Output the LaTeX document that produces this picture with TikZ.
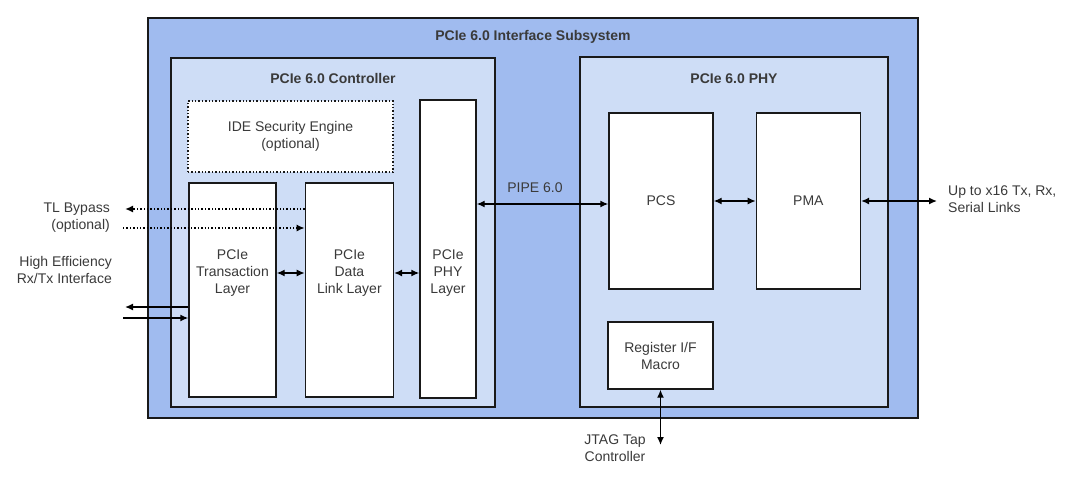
\documentclass[tikz,border=0pt]{standalone}
\usepackage{fontspec}
\setmainfont{Liberation Sans}
\usetikzlibrary{positioning,arrows.meta}
\definecolor{subsysblue}{HTML}{A0BBEF}
\definecolor{paleblue}{HTML}{CEDDF6}
\definecolor{textgray}{HTML}{3A3A3A}
\tikzset{
  groupbox/.style={rectangle,draw=black!90,line width=1.4pt,inner sep=0pt},
  blockbox/.style={groupbox,fill=white,text=textgray,align=center},
  lbl/.style={align=center,text=textgray,inner sep=0pt},
  link/.style={line width=1.4pt,{Latex[length=8pt,width=7pt]}-{Latex[length=8pt,width=7pt]}},
  oneway/.style={line width=1.4pt,-{Latex[length=8pt,width=7pt]}},
}

\begin{document}
\begin{tikzpicture}[x=1pt,y=-1pt,font=\fontsize{14}{17}\selectfont]
    \useasboundingbox (0,0) rectangle (1080,485);
    \fill[white] (0,0) rectangle (1080,485);

    % Subsystem and its two groups
    \node (subsys) [groupbox,fill=subsysblue,minimum width=770pt,minimum height=400pt] at (533,218) {};
    \node (subsyslabel) [lbl,font=\fontsize{14}{17}\selectfont\bfseries,below=13pt of subsys.north] {PCIe 6.0 Interface Subsystem};

    \node (ctrl) [groupbox,fill=paleblue,minimum width=324pt,minimum height=349pt] at (333,232.5) {};
    \node (ctrllabel) [lbl,font=\fontsize{14}{17}\selectfont\bfseries,below=16pt of ctrl.north] {PCIe 6.0 Controller};

    \node (phy) [groupbox,fill=paleblue,minimum width=308pt,minimum height=350pt] at (734,232) {};
    \node (phylabel) [lbl,font=\fontsize{14}{17}\selectfont\bfseries,below=17pt of phy.north] {PCIe 6.0 PHY};

    % Controller blocks
    \node (ide) [blockbox,dotted,line width=2pt,minimum width=205pt,minimum height=71pt] at (290.5,136.5) {};
    \node (idelabel) [lbl] at (ide.center) {IDE Security Engine\\(optional)};

    \node (tl) [blockbox,minimum width=87pt,minimum height=214pt] at (232.5,290) {};
    \node (tllabel) [lbl] at (232.5,273) {PCIe\\Transaction\\Layer};

    \node (dl) [blockbox,minimum width=88pt,minimum height=214pt,right=28pt of tl] {};
    \node (dllabel) [lbl] at (dl.center |- tllabel) {PCIe\\Data\\Link Layer};

    \node (phyl) [blockbox,minimum width=56pt,minimum height=298pt] at (448,249) {};
    \node (phyllabel) [lbl] at (phyl.center |- tllabel) {PCIe\\PHY\\Layer};

    % PHY blocks
    \node (pcs) [blockbox,minimum width=104pt,minimum height=176pt] at (661,201) {PCS};
    \node (pma) [blockbox,minimum width=104pt,minimum height=176pt,right=42pt of pcs] {PMA};
    \node (reg) [blockbox,minimum width=105pt,minimum height=67pt] at (660.5,355.5) {Register I/F\\Macro};

    % Outside labels
    \node (bypasslabel) [lbl,align=right,anchor=east] at (110,218) {TL Bypass\\(optional)};
    \node (hostlabel) [lbl,align=right,anchor=east] at (112,270) {High Efficiency\\Rx/Tx Interface};
    \node (serlabel) [lbl,align=left,anchor=west] at (948,199) {Up to x16 Tx, Rx,\\Serial Links};
    \node (jtaglabel) [lbl] at (615,448) {JTAG Tap\\Controller};
    \node (pipelabel) [lbl] at (535,188) {PIPE 6.0};

    \coordinate (bypassout) at (125,209);
    \coordinate (bypassin) at (123,228);
    \coordinate (hostout) at (125,307);
    \coordinate (hostin) at (123,318);
    \coordinate (serend) at (937,201);
    \coordinate (jtagend) at (reg.south |- 0,445);

    % Arrows
    \draw[oneway,dotted,line width=1.8pt] (dl.west |- bypassout) to (bypassout);
    \draw[oneway,dotted,line width=1.8pt] (bypassin) to (dl.west |- bypassin);
    \draw[oneway] (tl.west |- hostout) to (hostout);
    \draw[oneway] (hostin) to (tl.west |- hostin);
    \draw[link] (tl.east |- tllabel) to (dl.west |- tllabel);
    \draw[link] (dl.east |- tllabel) to (phyl.west |- tllabel);
    \draw[link] (phyl.east |- 0,204) to (pcs.west |- 0,204);
    \draw[link] (pcs.east) to (pma.west);
    \draw[link] (pma.east) to (serend);
    \draw[link] (reg.south) to (jtagend);

\end{tikzpicture}
\end{document}
